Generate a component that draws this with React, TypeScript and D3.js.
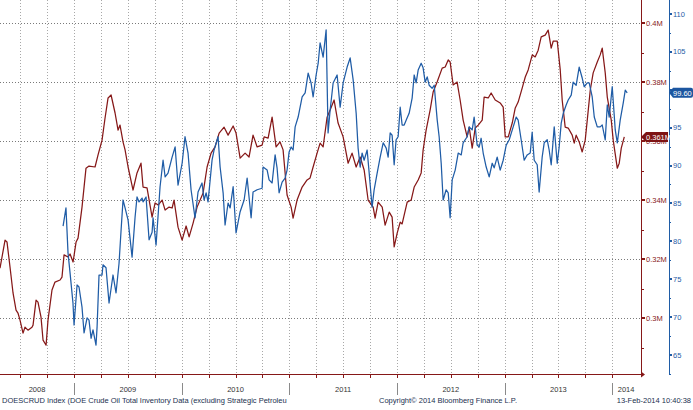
import React from 'react';
import * as d3 from 'd3';

const W = 693;
const H = 410;

// DOE crude oil inventory ex SPR, million barrels (dates as decimal years)
const redDates = [
  2008.312, 2008.359, 2008.377, 2008.405, 2008.433, 2008.461, 2008.479, 2008.498, 2008.526, 2008.544,
  2008.572, 2008.609, 2008.619, 2008.647, 2008.665, 2008.693, 2008.712, 2008.74, 2008.758, 2008.795,
  2008.823, 2008.87, 2008.888, 2008.907, 2008.944, 2008.963, 2008.991, 2009.019, 2009.037, 2009.074,
  2009.111, 2009.139, 2009.195, 2009.223, 2009.26, 2009.288, 2009.316, 2009.344, 2009.381, 2009.409,
  2009.427, 2009.455, 2009.474, 2009.502, 2009.548, 2009.585, 2009.622, 2009.641, 2009.678, 2009.725,
  2009.753, 2009.781, 2009.818, 2009.846, 2009.883, 2009.911, 2009.929, 2009.966, 2010.004, 2010.041,
  2010.069, 2010.106, 2010.143, 2010.199, 2010.236, 2010.273, 2010.31, 2010.348, 2010.394, 2010.431,
  2010.478, 2010.505, 2010.543, 2010.589, 2010.626, 2010.663, 2010.701, 2010.747, 2010.766, 2010.803,
  2010.84, 2010.877, 2010.914, 2010.942, 2010.979, 2011.017, 2011.035, 2011.072, 2011.119, 2011.165,
  2011.193, 2011.221, 2011.258, 2011.286, 2011.314, 2011.351, 2011.379, 2011.416, 2011.453, 2011.5,
  2011.546, 2011.583, 2011.621, 2011.658, 2011.695, 2011.732, 2011.779, 2011.797, 2011.825, 2011.863,
  2011.89, 2011.928, 2011.955, 2011.974, 2012.002, 2012.03, 2012.048, 2012.095, 2012.132, 2012.16,
  2012.197, 2012.225, 2012.243, 2012.271, 2012.308, 2012.336, 2012.373, 2012.42, 2012.448, 2012.476,
  2012.494, 2012.522, 2012.559, 2012.587, 2012.615, 2012.652, 2012.671, 2012.699, 2012.727, 2012.755,
  2012.792, 2012.81, 2012.848, 2012.875, 2012.913, 2012.959, 2012.987, 2013.006, 2013.034, 2013.071,
  2013.099, 2013.126, 2013.164, 2013.192, 2013.219, 2013.257, 2013.284, 2013.312, 2013.34, 2013.377,
  2013.405, 2013.433, 2013.452, 2013.489, 2013.517, 2013.535, 2013.563, 2013.591, 2013.628, 2013.647,
  2013.665, 2013.693, 2013.721, 2013.749, 2013.768, 2013.796, 2013.823, 2013.861, 2013.888, 2013.907,
  2013.935, 2013.954, 2013.991, 2014.009, 2014.047, 2014.065, 2014.084, 2014.112,
];
const redValues = [
  316.9, 326.4, 325.8, 317.3, 308.5, 302.7, 301.7, 299.3, 294.9, 296.9,
  295.9, 296.9, 297.6, 306.1, 305.4, 300.3, 292.5, 290.8, 299.3, 309.5,
  312.2, 312.9, 313.9, 321.4, 320.7, 321.7, 319.0, 325.8, 327.1, 337.6,
  350.8, 351.5, 351.2, 355.3, 360.3, 367.8, 374.6, 375.6, 369.5, 363.7,
  365.4, 359.7, 357.0, 351.2, 343.4, 349.2, 352.5, 344.4, 344.1, 334.2,
  339.0, 338.3, 340.0, 336.6, 337.6, 337.3, 340.0, 330.8, 326.4, 331.2,
  327.5, 332.2, 337.6, 342.4, 351.2, 355.9, 358.0, 362.7, 364.7, 362.0,
  365.1, 362.7, 354.2, 355.9, 354.6, 362.0, 358.0, 358.6, 361.4, 361.0,
  368.1, 358.0, 359.7, 357.0, 341.7, 337.6, 333.9, 340.0, 344.4, 346.8,
  347.5, 351.2, 355.9, 359.3, 358.0, 368.1, 370.5, 373.9, 366.1, 361.4,
  352.5, 355.9, 351.2, 354.6, 350.2, 340.0, 337.6, 333.9, 339.3, 337.6,
  331.5, 335.9, 334.2, 324.1, 328.8, 332.5, 331.9, 339.3, 340.0, 344.4,
  346.8, 349.2, 356.9, 363.7, 370.5, 376.6, 380.0, 384.7, 385.1, 387.5,
  386.8, 379.0, 380.0, 373.9, 367.1, 361.4, 364.7, 357.6, 364.4, 365.4,
  367.1, 374.9, 374.6, 376.3, 373.9, 372.9, 371.5, 361.4, 361.4, 366.1,
  371.2, 373.2, 378.0, 381.7, 384.1, 389.2, 388.5, 390.8, 395.3, 395.9,
  397.6, 391.5, 393.9, 393.9, 384.1, 373.9, 364.7, 364.4, 362.0, 359.3,
  362.0, 359.7, 356.3, 360.3, 367.1, 377.3, 383.1, 386.8, 389.2, 391.5,
  383.1, 374.9, 367.1, 360.3, 350.8, 352.5, 357.6, 361.4,
];

// second series (right-hand blue scale)
const blueDates = [
  2008.898, 2008.925, 2008.944, 2008.963, 2008.99, 2009.0, 2009.028, 2009.046, 2009.074, 2009.093,
  2009.121, 2009.139, 2009.158, 2009.176, 2009.204, 2009.214, 2009.232, 2009.26, 2009.269, 2009.297,
  2009.325, 2009.362, 2009.39, 2009.418, 2009.437, 2009.455, 2009.474, 2009.502, 2009.539, 2009.567,
  2009.585, 2009.604, 2009.632, 2009.641, 2009.669, 2009.697, 2009.725, 2009.734, 2009.762, 2009.799,
  2009.827, 2009.846, 2009.873, 2009.911, 2009.939, 2009.966, 2010.004, 2010.031, 2010.059, 2010.087,
  2010.124, 2010.152, 2010.189, 2010.208, 2010.227, 2010.245, 2010.282, 2010.301, 2010.338, 2010.357,
  2010.385, 2010.403, 2010.431, 2010.45, 2010.478, 2010.505, 2010.543, 2010.58, 2010.608, 2010.645,
  2010.663, 2010.701, 2010.747, 2010.756, 2010.794, 2010.812, 2010.84, 2010.868, 2010.886, 2010.905,
  2010.933, 2010.961, 2010.979, 2010.998, 2011.017, 2011.035, 2011.054, 2011.082, 2011.119, 2011.147,
  2011.175, 2011.202, 2011.221, 2011.249, 2011.268, 2011.286, 2011.314, 2011.342, 2011.36, 2011.379,
  2011.407, 2011.444, 2011.472, 2011.5, 2011.537, 2011.565, 2011.593, 2011.621, 2011.639, 2011.658,
  2011.676, 2011.695, 2011.723, 2011.742, 2011.769, 2011.788, 2011.816, 2011.844, 2011.872, 2011.9,
  2011.918, 2011.937, 2011.955, 2011.974, 2011.992, 2012.011, 2012.03, 2012.048, 2012.067, 2012.095,
  2012.113, 2012.141, 2012.16, 2012.178, 2012.197, 2012.225, 2012.243, 2012.262, 2012.281, 2012.299,
  2012.327, 2012.346, 2012.374, 2012.392, 2012.411, 2012.429, 2012.457, 2012.476, 2012.494, 2012.513,
  2012.541, 2012.569, 2012.597, 2012.615, 2012.652, 2012.671, 2012.699, 2012.717, 2012.745, 2012.764,
  2012.782, 2012.801, 2012.829, 2012.857, 2012.885, 2012.903, 2012.931, 2012.959, 2012.987, 2013.015,
  2013.043, 2013.08, 2013.108, 2013.126, 2013.154, 2013.182, 2013.21, 2013.238, 2013.256, 2013.275,
  2013.303, 2013.321, 2013.349, 2013.368, 2013.396, 2013.414, 2013.433, 2013.461, 2013.489, 2013.507,
  2013.526, 2013.545, 2013.572, 2013.591, 2013.619, 2013.637, 2013.665, 2013.693, 2013.721, 2013.74,
  2013.768, 2013.786, 2013.814, 2013.833, 2013.861, 2013.888, 2013.907, 2013.935, 2013.954, 2013.972,
  2014.0, 2014.028, 2014.047, 2014.074, 2014.102, 2014.121, 2014.139,
];
const blueValues = [
  82.0, 84.4, 78.45, 75.8, 71.85, 68.95, 74.23, 73.97, 71.3, 67.9,
  69.9, 69.6, 67.2, 68.3, 66.3, 68.7, 75.55, 75.55, 76.9, 76.5,
  71.85, 75.55, 73.2, 77.1, 81.5, 85.45, 84.4, 82.8, 77.9, 83.2,
  85.85, 85.2, 85.7, 85.2, 85.85, 80.2, 81.2, 83.1, 79.5, 87.2,
  90.7, 88.5, 89.0, 91.1, 92.45, 87.4, 90.3, 93.8, 91.65, 86.8,
  83.1, 86.5, 87.7, 85.45, 86.4, 85.2, 90.7, 92.05, 93.8, 89.8,
  86.4, 82.15, 85.05, 84.4, 87.2, 81.1, 83.9, 85.45, 88.35, 83.1,
  86.5, 86.8, 87.0, 89.8, 89.4, 88.1, 87.7, 91.4, 89.7, 86.4,
  87.8, 88.35, 89.4, 91.8, 92.45, 92.05, 95.1, 96.4, 99.05, 99.6,
  102.2, 100.9, 99.05, 101.95, 103.5, 106.2, 104.3, 107.9, 94.3, 97.3,
  100.9, 101.95, 97.7, 100.9, 103.0, 104.2, 101.3, 96.9, 92.3, 89.8,
  91.65, 90.7, 92.05, 89.0, 84.5, 86.8, 89.0, 91.1, 93.0, 92.3,
  91.1, 94.3, 94.0, 90.1, 93.4, 93.8, 97.7, 95.35, 95.35, 96.3,
  96.9, 98.9, 101.95, 100.9, 102.6, 103.5, 102.9, 101.0, 101.7, 100.6,
  100.2, 100.6, 96.0, 93.8, 90.3, 85.45, 86.8, 86.4, 83.1, 88.1,
  89.4, 91.65, 91.4, 93.0, 93.8, 95.1, 94.7, 96.4, 92.7, 92.45,
  93.6, 91.65, 89.8, 88.5, 90.3, 89.7, 91.1, 89.4, 90.7, 92.7,
  93.4, 95.1, 96.4, 96.0, 93.4, 90.7, 91.4, 91.65, 94.4, 90.7,
  90.1, 86.5, 91.1, 93.0, 93.4, 92.05, 90.1, 95.1, 90.3, 92.45,
  95.6, 96.9, 98.0, 98.65, 99.3, 101.0, 100.6, 103.0, 101.55, 100.4,
  100.9, 100.9, 99.05, 96.4, 95.1, 95.1, 95.35, 93.4, 98.0, 96.4,
  100.4, 94.7, 93.0, 96.0, 98.25, 99.95, 99.6,
];

const redTicks = [300, 320, 340, 360, 380, 400];
const redTickLabels = ['0.3M', '0.32M', '0.34M', '0.36M', '0.38M', '0.4M'];
const blueTicks = [65, 70, 75, 80, 85, 90, 95, 100, 105, 110];
const years = [2008, 2009, 2010, 2011, 2012, 2013, 2014];
const redLastLabel = '0.361M';
const blueLastLabel = '99.60';
const footerLeft = 'DOESCRUD Index (DOE Crude Oil Total Inventory Data (excluding Strategic Petroleu';
const footerMid = 'Copyright\u00a9 2014 Bloomberg Finance L.P.';
const footerRight = '13-Feb-2014 10:40:38';

const RED = '#861818';
const BLUE = '#1f5ca6';
const FONT = '"Liberation Sans", Arial, sans-serif';

export default function App() {
  const plotW = 640;
  const plotB = 375;
  const redAxisX = 641;
  const blueAxisX = 669;

  const x = d3.scaleLinear().domain([2008.312, 2014.258]).range([0, plotW]);
  const yRed = d3.scaleLinear().domain([280.7, 407.8]).range([plotB, 0]);
  const yBlue = d3.scaleLinear().domain([62.35, 111.85]).range([plotB, 0]);

  const redLine = d3.line<number>()
    .x((d, i) => x(redDates[i]))
    .y((d) => yRed(d));
  const blueLine = d3.line<number>()
    .x((d, i) => x(blueDates[i]))
    .y((d) => yBlue(d));

  const quarters = d3.range(2008.5, 2014.01, 0.25);
  const redMinor = d3.range(290, 401, 10);
  const blueMinor = d3.range(62.5, 111, 2.5);

  const redLastY = yRed(redValues[redValues.length - 1]);
  const blueLastY = yBlue(blueValues[blueValues.length - 1]);

  // labels fully hidden under the last-value tag are not drawn
  const blueVisible = blueTicks.filter((t) => Math.abs(yBlue(t) - blueLastY) > 8);

  return (
    <svg width={W} height={H} style={{ position: 'absolute', left: 0, top: 0, background: '#fff' }}
      fontFamily={FONT}>
      {/* vertical quarter grid */}
      {quarters.map((q) => (
        <line key={'q' + q} x1={Math.round(x(q)) + 0.5} x2={Math.round(x(q)) + 0.5} y1={0} y2={plotB - 1}
          stroke="#a8a8a8" strokeDasharray="1,2" />
      ))}
      {/* horizontal grid at red major ticks */}
      {redTicks.map((t) => (
        <line key={'h' + t} x1={0} x2={plotW} y1={Math.round(yRed(t)) + 0.5} y2={Math.round(yRed(t)) + 0.5}
          stroke="#7a7a7a" strokeDasharray="1,2" />
      ))}

      {/* series */}
      <path d={redLine(redValues) || ''} fill="none" stroke={RED} strokeWidth={1.25} strokeLinejoin="round" />
      <path d={blueLine(blueValues) || ''} fill="none" stroke={BLUE} strokeWidth={1.25} strokeLinejoin="round" />

      {/* bottom axis */}
      <line x1={0} x2={redAxisX} y1={plotB - 0.5} y2={plotB - 0.5} stroke={RED} strokeWidth={1} />
      <path d={`M${redAxisX},${plotB - 3.5}L${redAxisX + 4},${plotB - 0.5}L${redAxisX},${plotB + 2.5}Z`} fill={RED} />
      {quarters.map((q) => (
        <line key={'bt' + q} x1={Math.round(x(q)) + 0.5} x2={Math.round(x(q)) + 0.5} y1={plotB} y2={plotB + 3}
          stroke={RED} />
      ))}
      {years.map((yr) => {
        const a = Math.max(x(yr), 0);
        const b = Math.min(x(yr + 1), plotW);
        return (
          <g key={'y' + yr}>
            {x(yr) > 0 && (
              <line x1={Math.round(x(yr)) + 0.5} x2={Math.round(x(yr)) + 0.5} y1={383} y2={395} stroke="#8a8a8a" />
            )}
            <text x={(a + b) / 2} y={392} fontSize={7.5} fill="#333" textAnchor="middle">{yr}</text>
          </g>
        );
      })}

      {/* red axis */}
      <line x1={redAxisX + 0.5} x2={redAxisX + 0.5} y1={0} y2={plotB} stroke={RED} />
      {redMinor.map((t) => (
        <line key={'rm' + t} x1={redAxisX} x2={redAxisX + 3} y1={Math.round(yRed(t)) + 0.5} y2={Math.round(yRed(t)) + 0.5}
          stroke={RED} />
      ))}
      {redTicks.map((t, i) => (
        <g key={'rt' + t}>
          <rect x={redAxisX} y={Math.round(yRed(t)) - 1} width={4} height={2} fill={RED} />
          <text x={redAxisX + 5} y={yRed(t) + 2.6} fontSize={7.5} fill={RED}>{redTickLabels[i]}</text>
        </g>
      ))}

      {/* blue axis */}
      <line x1={blueAxisX + 0.5} x2={blueAxisX + 0.5} y1={0} y2={plotB} stroke={BLUE} />
      {blueMinor.map((t) => (
        <line key={'bm' + t} x1={blueAxisX} x2={blueAxisX + 2} y1={Math.round(yBlue(t)) + 0.5} y2={Math.round(yBlue(t)) + 0.5}
          stroke={BLUE} />
      ))}
      {blueTicks.map((t) => (
        <rect key={'btk' + t} x={blueAxisX} y={Math.round(yBlue(t)) - 1} width={3} height={2} fill={BLUE} />
      ))}
      {blueVisible.map((t) => (
        <text key={'btl' + t} x={blueAxisX + 4} y={yBlue(t) + 2.6} fontSize={7.5} fill={BLUE}>{t}</text>
      ))}

      {/* last value tags */}
      <path d={`M${redAxisX},${redLastY}L${redAxisX + 5},${redLastY - 5}L${blueAxisX - 1},${redLastY - 5}L${blueAxisX - 1},${redLastY + 5}L${redAxisX + 5},${redLastY + 5}Z`}
        fill="#7e1414" />
      <text x={redAxisX + 5} y={redLastY + 2.7} fontSize={7.5} fill="#fff">{redLastLabel}</text>
      <path d={`M${blueAxisX},${blueLastY}L${blueAxisX + 4},${blueLastY - 5}L${W - 2},${blueLastY - 5}Q${W},${blueLastY - 5} ${W},${blueLastY - 3}L${W},${blueLastY + 3}Q${W},${blueLastY + 5} ${W - 2},${blueLastY + 5}L${blueAxisX + 4},${blueLastY + 5}Z`}
        fill="#1c56a0" />
      <text x={blueAxisX + 4} y={blueLastY + 2.7} fontSize={7.5} fill="#fff">{blueLastLabel}</text>

      {/* footer */}
      <text x={2} y={403} fontSize={7.5} fill="#22304f">{footerLeft}</text>
      <text x={379} y={403} fontSize={7.5} fill="#22304f">{footerMid}</text>
      <text x={691} y={403} fontSize={7.5} fill="#22304f" textAnchor="end">{footerRight}</text>
    </svg>
  );
}
